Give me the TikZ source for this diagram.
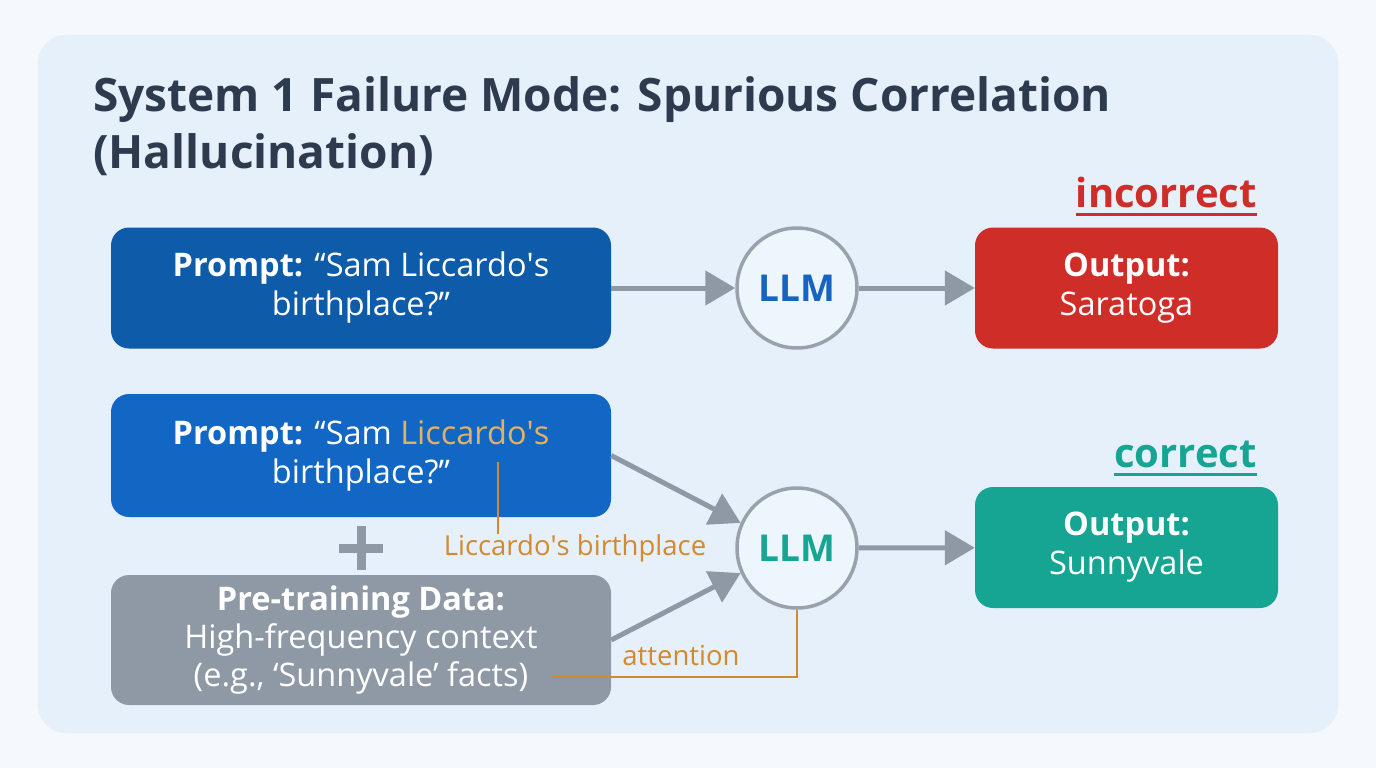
\documentclass[tikz,border=0pt]{standalone}
\usepackage{fontspec}
\setmainfont{Open Sans}
\usetikzlibrary{arrows.meta,positioning,calc}

\definecolor{pagebg}{HTML}{F5F8FC}
\definecolor{panelbg}{HTML}{E5F0FB}
\definecolor{titleink}{HTML}{2E3B4E}
\definecolor{promptdark}{HTML}{0D5BA9}
\definecolor{promptblue}{HTML}{1367C4}
\definecolor{datagray}{HTML}{8F99A5}
\definecolor{flowgray}{HTML}{8F99A5}
\definecolor{wrongred}{HTML}{CF2D28}
\definecolor{rightteal}{HTML}{17A593}
\definecolor{cueorange}{HTML}{D5892C}
\definecolor{wordgold}{HTML}{E4B064}
\definecolor{llmfill}{HTML}{EDF5FD}
\definecolor{llmring}{HTML}{99A2AC}
\definecolor{llmblue}{HTML}{1565C0}

\begin{document}
\begin{tikzpicture}[x=1pt, y=-1pt,
    box/.style={rounded corners=18pt, minimum width=500pt, minimum height=121pt,
        text=white, align=center, inner sep=0pt, font=\fontsize{32.5}{39}\selectfont},
    outbox/.style={box, minimum width=303pt},
    llm/.style={circle, draw=llmring, line width=3.5pt, fill=llmfill,
        minimum size=120pt, font=\fontsize{37}{42}\selectfont\bfseries},
    flow/.style={draw=flowgray, line width=5pt, -{Triangle[length=30pt,width=34pt]}},
    cue/.style={draw=cueorange, line width=2.5pt},
    tag/.style={text=cueorange, font=\fontsize{27.5}{32}\selectfont, inner sep=0pt},
    verdict/.style={font=\fontsize{40}{44}\selectfont\bfseries, inner sep=0pt}]

    % Background and panel
    \useasboundingbox (0,0) rectangle (1376,768);
    \fill[pagebg] (0,0) rectangle (1376,768);
    \fill[panelbg, rounded corners=28pt] (38,35) rectangle (1338,733);

    % Title
    \node[anchor=north west, align=left, inner sep=0pt, text=titleink,
        font=\fontsize{46}{57}\selectfont\bfseries] (title) at (93,76)
        {System 1 Failure Mode: Spurious Correlation\\(Hallucination)};

    % Nodes, top row
    \node[box, fill=promptdark] (P1) at (361,288)
        {\textbf{Prompt:} “Sam Liccardo\textquotesingle s\\birthplace?”};
    \node[llm, text=llmblue] (L1) at (797,288) {LLM};
    \node[outbox, fill=wrongred] (O1) at (1126.5,288) {\textbf{Output:}\\Saratoga};
    \node[verdict, text=wrongred, anchor=base east] (wrong) at (1257,207) {incorrect};

    % Nodes, bottom row
    \node[box, fill=promptblue, minimum height=123pt] (P2) at (361,455.5)
        {\textbf{Prompt:} “Sam \textcolor{wordgold}{Liccardo\textquotesingle s}\\birthplace?”};
    \node[box, fill=datagray, minimum height=130pt, font=\fontsize{32.5}{38}\selectfont] (D) at (361,640)
        {\textbf{Pre-training Data:}\\High-frequency context\\(e.g., ‘Sunnyvale’ facts)};
    \node[llm, text=rightteal] (L2) at (797,548) {LLM};
    \node[outbox, fill=rightteal] (O2) at (1126.5,547.5) {\textbf{Output:}\\Sunnyvale};
    \node[verdict, text=rightteal, anchor=base east] (right) at (1257,467) {correct};

    % Plus sign
    \coordinate (plus) at (361,548);
    \draw[flowgray, line width=9pt] ($(plus)+(-22,0)$) -- ($(plus)+(22,0)$)
        ($(plus)+(0,-22)$) -- ($(plus)+(0,22)$);

    % Annotations
    \coordinate (licc) at (498,462);
    \node[tag] (birth) at (575,548) {Liccardo\textquotesingle s birthplace};
    \coordinate (sunny) at (552,677);
    \node[tag] (attn) at (681,656) {attention};

    % Underlines
    \draw[wrongred, line width=3pt] ($(wrong.base west)+(0,7)$) -- ($(wrong.base east)+(0,7)$);
    \draw[rightteal, line width=3pt] ($(right.base west)+(0,7)$) -- ($(right.base east)+(0,7)$);

    % Arcs
    \draw[flow] (P1) -- (L1);
    \draw[flow] (L1) -- (O1);
    \draw[flow] (P2.east) -- (L2.156);
    \draw[flow] (D.east) -- (L2.204);
    \draw[flow] (L2) -- (O2);
    \draw[cue] (licc) -- (licc |- birth.north);
    \draw[cue] (sunny) -| (L2.south);
\end{tikzpicture}
\end{document}
